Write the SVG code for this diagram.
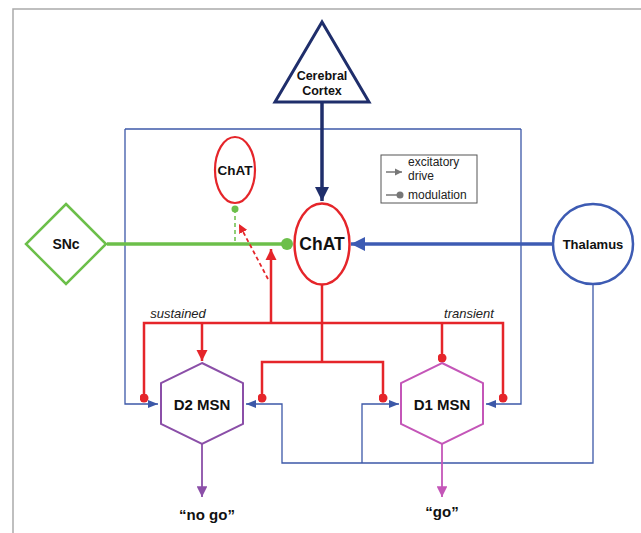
<svg xmlns="http://www.w3.org/2000/svg" width="641" height="533" viewBox="0 0 641 533">
<style>
.t{font-family:"Liberation Sans",Arial,sans-serif;font-weight:bold;fill:#111;text-anchor:middle}
.it{font-family:"Liberation Sans",Arial,sans-serif;font-style:italic;font-size:13px;fill:#222;text-anchor:middle}
.lg{font-family:"Liberation Sans",Arial,sans-serif;font-size:12px;fill:#222}
.red{stroke:#e5252a;stroke-width:2.5;fill:none}
.blue{stroke:#3c58a8;stroke-width:1.3;fill:none}
</style>
<defs>
<marker id="aNavy" viewBox="0 0 10 10" refX="10" refY="5" markerWidth="4" markerHeight="4" orient="auto" markerUnits="strokeWidth"><path d="M0,0L10,5L0,10z" fill="#1f2e6b"/></marker>
<marker id="aBlue" viewBox="0 0 10 10" refX="10" refY="5" markerWidth="4" markerHeight="4" orient="auto" markerUnits="strokeWidth"><path d="M0,0L10,5L0,10z" fill="#3d5bb3"/></marker>
<marker id="aBlueS" viewBox="0 0 10 10" refX="10" refY="5" markerWidth="8" markerHeight="8" orient="auto" markerUnits="strokeWidth"><path d="M0,1L10,5L0,9z" fill="#3c58a8"/></marker>
<marker id="aRed" viewBox="0 0 10 10" refX="10" refY="5" markerWidth="4.5" markerHeight="4.5" orient="auto" markerUnits="strokeWidth"><path d="M0,0L10,5L0,10z" fill="#e5252a"/></marker>
<marker id="aRedD" viewBox="0 0 10 10" refX="10" refY="5" markerWidth="5" markerHeight="5" orient="auto" markerUnits="strokeWidth"><path d="M0,0L10,5L0,10z" fill="#e5252a"/></marker>
<marker id="dRed" viewBox="0 0 10 10" refX="5" refY="5" markerWidth="3.6" markerHeight="3.6" markerUnits="strokeWidth"><circle cx="5" cy="5" r="5" fill="#e5252a"/></marker>
<marker id="aPur" viewBox="0 0 10 10" refX="10" refY="5" markerWidth="6" markerHeight="6" orient="auto" markerUnits="strokeWidth"><path d="M0,0L10,5L0,10z" fill="#8b4fa8"/></marker>
<marker id="aMag" viewBox="0 0 10 10" refX="10" refY="5" markerWidth="6" markerHeight="6" orient="auto" markerUnits="strokeWidth"><path d="M0,0L10,5L0,10z" fill="#c456b8"/></marker>
<marker id="aGray" viewBox="0 0 10 10" refX="10" refY="5" markerWidth="5" markerHeight="5" orient="auto" markerUnits="strokeWidth"><path d="M0,0L10,5L0,10z" fill="#777"/></marker>
</defs>
<rect width="641" height="533" fill="#fff"/>
<path d="M13,533V9H641" fill="none" stroke="#aaa" stroke-width="1.5"/>
<g id="connectors">
<path class="blue" d="M125,129H521"/>
<path class="blue" d="M125,129V404H158" marker-end="url(#aBlueS)"/>
<path class="blue" d="M521,129V404H486" marker-end="url(#aBlueS)"/>
<path class="blue" d="M593,284V463H282V404H246" marker-end="url(#aBlueS)"/>
<path class="blue" d="M362,463V404H399" marker-end="url(#aBlueS)"/>
<line x1="322" y1="102" x2="322" y2="201" stroke="#1f2e6b" stroke-width="3.5" marker-end="url(#aNavy)"/>
<line x1="553" y1="244" x2="351" y2="244" stroke="#3d5bb3" stroke-width="3.5" marker-end="url(#aBlue)"/>
<line x1="107" y1="244" x2="284" y2="244" stroke="#6cbf4a" stroke-width="3.5"/>
<circle cx="287" cy="244" r="6" fill="#6cbf4a"/>
<line x1="235" y1="209" x2="235" y2="244" stroke="#6cbf4a" stroke-width="1.5" stroke-dasharray="4,3"/>
<circle cx="235" cy="209" r="3.5" fill="#6cbf4a"/>
<line x1="268" y1="279" x2="239" y2="224" stroke="#e5252a" stroke-width="1.8" stroke-dasharray="4,3" marker-end="url(#aRedD)"/>
<path class="red" d="M271,323V249" marker-end="url(#aRed)"/>
<path class="red" d="M144,398V323H503V398" marker-end="url(#dRed)" marker-start="url(#dRed)"/>
<path class="red" d="M202,323V361" marker-end="url(#aRed)"/>
<path class="red" d="M442,323V358" marker-end="url(#dRed)"/>
<path class="red" d="M322,285V362"/>
<path class="red" d="M262,398V362H383V398" marker-end="url(#dRed)" marker-start="url(#dRed)"/>
<line x1="202" y1="444" x2="202" y2="497" stroke="#8b4fa8" stroke-width="1.8" marker-end="url(#aPur)"/>
<line x1="442" y1="444" x2="442" y2="497" stroke="#c456b8" stroke-width="1.8" marker-end="url(#aMag)"/>
</g>
<g id="cortex">
<polygon points="322,22 275,102 369,102" fill="#fff" stroke="#1f2e6b" stroke-width="3"/>
<text class="t" x="322" y="80" font-size="12.5">Cerebral</text>
<text class="t" x="322" y="95" font-size="12.5">Cortex</text>
</g>
<g id="chat-small">
<ellipse cx="235" cy="170" rx="20" ry="33" fill="#fff" stroke="#e5252a" stroke-width="2.2"/>
<text class="t" x="235" y="175" font-size="13.5">ChAT</text>
</g>
<g id="chat-main">
<ellipse cx="322" cy="244" rx="27.5" ry="40.5" fill="#fff" stroke="#e5252a" stroke-width="2.5"/>
<text class="t" x="322" y="250" font-size="17.5">ChAT</text>
</g>
<g id="snc">
<polygon points="66,204 106,244 66,284 26,244" fill="#fff" stroke="#6cbf4a" stroke-width="2.5"/>
<text class="t" x="66" y="249" font-size="14">SNc</text>
</g>
<g id="thalamus">
<circle cx="593" cy="244" r="40" fill="#fff" stroke="#3d5bb3" stroke-width="2.5"/>
<text class="t" x="593" y="249" font-size="13">Thalamus</text>
</g>
<g id="legend">
<rect x="381" y="155" width="96" height="48" fill="#fff" stroke="#555" stroke-width="1"/>
<line x1="386" y1="172" x2="402" y2="172" stroke="#777" stroke-width="1.5" marker-end="url(#aGray)"/>
<line x1="386" y1="195" x2="398" y2="195" stroke="#777" stroke-width="1.5"/>
<circle cx="400" cy="195" r="3.5" fill="#777"/>
<text class="lg" x="408" y="166">excitatory</text>
<text class="lg" x="408" y="180">drive</text>
<text class="lg" x="408" y="199">modulation</text>
</g>
<g id="labels">
<text class="it" x="178" y="318">sustained</text>
<text class="it" x="469" y="318">transient</text>
</g>
<g id="d2">
<polygon points="202,363 243,383 243,424 202,444 161,424 161,383" fill="#fff" stroke="#8b4fa8" stroke-width="2"/>
<text class="t" x="202" y="410" font-size="15">D2 MSN</text>
</g>
<g id="d1">
<polygon points="442,363 483,383 483,424 442,444 401,424 401,383" fill="#fff" stroke="#c456b8" stroke-width="2"/>
<text class="t" x="442" y="410" font-size="15">D1 MSN</text>
</g>
<g id="outputs">
<text class="t" x="207" y="520" font-size="15">“no go”</text>
<text class="t" x="442" y="517" font-size="15">“go”</text>
</g>
</svg>
